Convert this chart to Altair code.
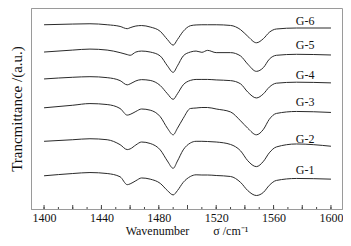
import altair as alt
import pandas as pd

wavenumber = [1400, 1420, 1432, 1444, 1453, 1458, 1460, 1464, 1468, 1474, 1481, 1486, 1490,
              1493, 1497, 1502, 1506, 1510, 1514, 1520, 1530, 1537, 1542, 1548, 1553, 1557,
              1562, 1576, 1600]

g6 = [187, 187.7, 188, 187, 185.3, 183, 184, 185.7, 186.2, 184.7, 180.3, 172, 166.3, 172, 180.3,
      186, 186.8, 187, 187, 187, 186.3, 182, 175.3, 168.7, 173, 179.3, 182.7, 183.7, 183.7]
g5 = [159.3, 161.3, 162.3, 161.3, 158.7, 156.7, 156, 159.3, 160.3, 159.3, 155.3, 145.3, 138.7,
      145.3, 155.3, 159.3, 160.3, 159, 161, 158.7, 158.7, 155.3, 147, 139.7, 143.7, 152, 156, 157, 156.3]
g4 = [132, 133.7, 134.3, 133.3, 130.3, 126, 127, 130, 131.3, 130.5, 125.3, 117, 111.3, 117, 126,
      130.5, 131.5, 131.5, 131.5, 131, 130.3, 127, 118.7, 112.7, 117, 123.7, 127.7, 128.7, 128]
g3 = [102.7, 105.3, 107, 106, 102, 95.3, 96, 99, 101.5, 100.3, 93.7, 82, 75.3, 82, 92, 102, 102.5,
      103, 103, 101.5, 98.5, 89.5, 82, 75.3, 81, 91, 97, 99, 98]
g2 = [68.7, 70.3, 71.3, 70.3, 65.3, 60.3, 61, 65, 68, 66.5, 60, 48.7, 41.3, 48.7, 60, 67, 68.7,
      68.7, 68.5, 68, 65.5, 59, 49, 43, 48.5, 57, 63, 66, 63.7]
g1 = [33.7, 36, 37, 36, 32.7, 24.7, 25.5, 28.7, 31.5, 30.3, 26, 18.7, 14.3, 18.7, 27, 33, 34.7,
      34.5, 34.5, 34, 33, 27, 18.7, 13.7, 17, 24, 29, 31, 30.3]

label_names = ["G-1", "G-2", "G-3", "G-4", "G-5", "G-6"]
label_x = [1582, 1582, 1582, 1582, 1582, 1582]
label_y = [40, 71, 109, 135.5, 166.3, 190.3]

minor_ticks = list(range(1400, 1601, 10))
major_ticks = list(range(1400, 1601, 20))
tick_labels = [1400, 1440, 1480, 1520, 1560, 1600]

series = {"G-1": g1, "G-2": g2, "G-3": g3, "G-4": g4, "G-5": g5, "G-6": g6}
rows = [{"w": w, "t": t, "s": name}
        for name, vals in series.items() for w, t in zip(wavenumber, vals)]
df = pd.DataFrame(rows)
labels_df = pd.DataFrame({"name": label_names, "w": label_x, "t": label_y})
minor_df = pd.DataFrame({"w": minor_ticks})
major_df = pd.DataFrame({"w": major_ticks})

FONT = "Liberation Serif"
GREY = "#9a9a9a"
W, H = 311, 201

xscale = alt.Scale(domain=[1390.9, 1607.7], nice=False, zero=False)
yscale = alt.Scale(domain=[0, 204], nice=False, zero=False)

xaxis = alt.Axis(values=tick_labels, ticks=False, grid=False, format="d",
                 labelFont=FONT, labelFontSize=12, labelColor="#111",
                 labelPadding=3, domainColor=GREY,
                 title="Wavenumber\u2003\u2003σ /cm⁻¹", titleFont=FONT,
                 titleFontSize=12, titleFontWeight="normal", titleColor="#111",
                 titlePadding=2)
yaxis = alt.Axis(labels=False, ticks=False, grid=False, domainColor=GREY,
                 title="Trancmittance /(a.u.)", titleFont=FONT, titleFontSize=15,
                 titleFontWeight="normal", titleColor="#111", titlePadding=7)

X = alt.X("w:Q", scale=xscale, axis=xaxis)
Y = alt.Y("t:Q", scale=yscale, axis=yaxis)

lines = alt.Chart(df).mark_line(color="#2a2a2a", strokeWidth=1, interpolate="monotone").encode(
    x=X, y=Y, detail="s:N",
)

minor = alt.Chart(minor_df).mark_rule(color="#444", strokeWidth=1).encode(
    x=X, y=alt.value(H), y2=alt.value(H - 2),
)
major = alt.Chart(major_df).mark_rule(color="#444", strokeWidth=1).encode(
    x=X, y=alt.value(H), y2=alt.value(H - 4),
)

texts = alt.Chart(labels_df).mark_text(font=FONT, fontSize=12, color="#111",
                                       baseline="middle", align="center").encode(
    x=X, y=Y, text="name:N",
)

chart = alt.layer(lines, minor, major, texts).properties(
    width=W, height=H,
    autosize=alt.AutoSizeParams(type="none"),
    padding={"left": 23, "top": 0, "right": 1, "bottom": 29},
).configure_view(stroke=GREY, strokeWidth=1)

chart.save("out.html", embed_options={"renderer": "svg", "actions": False})
